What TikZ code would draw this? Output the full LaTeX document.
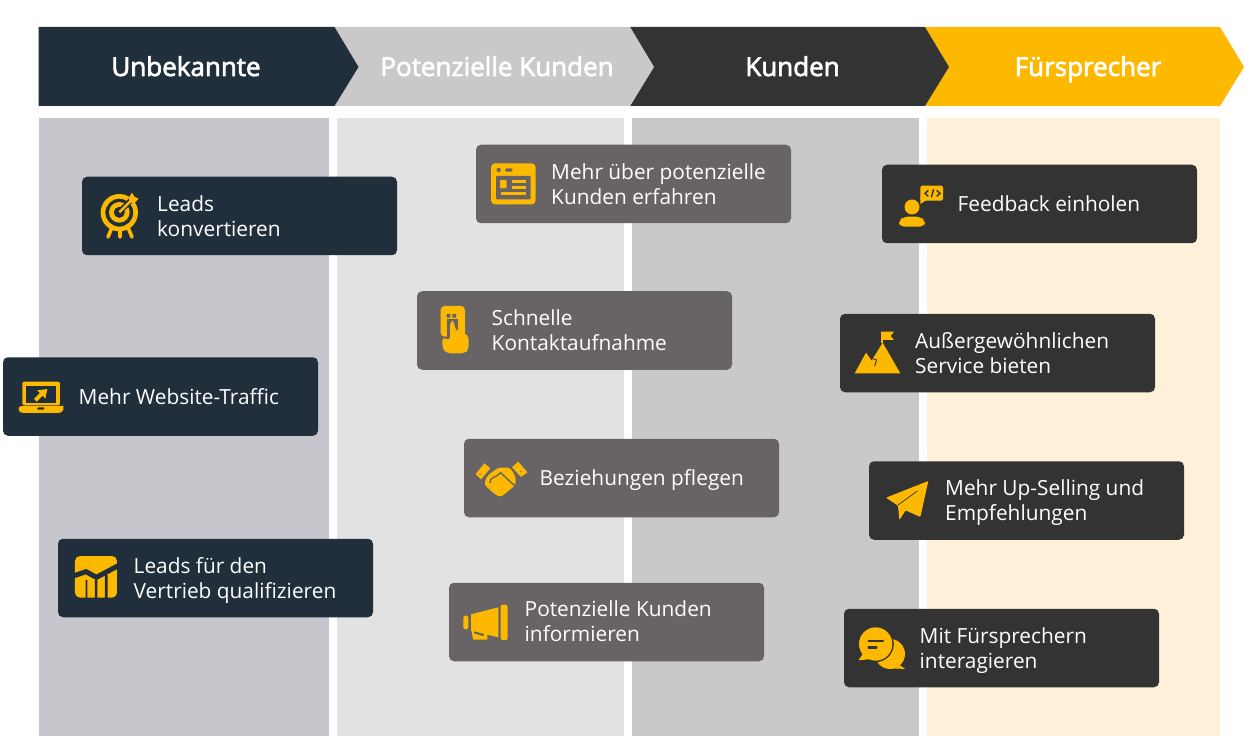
\documentclass[tikz,border=0pt]{standalone}
\usepackage{fontspec}
\setmainfont{Open Sans}
\newfontfamily\hdrfont{Open Sans}[FakeBold=2.5]
\definecolor{navy}{HTML}{212F3D}
\definecolor{slate}{HTML}{686364}
\definecolor{coal}{HTML}{333333}
\definecolor{gold}{HTML}{FDB900}
\definecolor{silver}{HTML}{CAC8C9}
\definecolor{colA}{HTML}{C7C6CC}
\definecolor{colB}{HTML}{E2E2E2}
\definecolor{colC}{HTML}{CAC9CA}
\definecolor{colD}{HTML}{FFF0D9}
\tikzset{
  x=1pt,y=-1pt,
  stage/.style={font=\hdrfont\fontsize{26}{28}\selectfont,text=white,inner sep=0pt,text height=18pt,text depth=6pt},
  card/.style={fill=#1,rounded corners=5pt,minimum width=315pt,minimum height=78.5pt,inner sep=0pt,draw=none},
  lbl/.style={font=\fontsize{20.85}{25}\selectfont,text=white,anchor=west,align=left,inner sep=0pt},
  icon/.style={shift={#1},x=0.3333pt,y=-0.3333pt,line cap=butt},
}
\newcommand{\chev}[4]{\fill[#4] (#1,27) -- (#2,27) -- (#2+24,67) -- (#2,106) -- (#1,106) #3;}
\begin{document}
\begin{tikzpicture}
\useasboundingbox (0,0) rectangle (1250,751);
\fill[white] (0,0) rectangle (1250,751);
% columns
\fill[colA] (38.5,118) rectangle (329,736);
\fill[colB] (337,118) rectangle (624,736);
\fill[colC] (632,118) rectangle (919,736);
\fill[colD] (927,118) rectangle (1220,736);
% chevrons
\chev{925}{1220}{-- (949,67) -- cycle}{gold}
\chev{630}{925}{-- (653.5,67) -- cycle}{coal}
\chev{334.5}{630}{-- (358,67) -- cycle}{silver}
\chev{38.5}{334.5}{-- cycle}{navy}
\node[stage] (s1) at (186,70) {Unbekannte};
\node[stage] (s2) at (497,70) {Potenzielle Kunden};
\node[stage] (s3) at (792.5,70) {Kunden};
\node[stage] (s4) at (1088,70) {Fürsprecher};
% cards
\node[card=navy] (c1) at (239.5,216) {};
\node[card=navy] (c2) at (160.5,396.5) {};
\node[card=navy] (c3) at (215.5,578) {};
\node[card=slate] (c4) at (633.5,184) {};
\node[card=slate] (c5) at (574.5,330.5) {};
\node[card=slate] (c6) at (621.5,478) {};
\node[card=slate] (c7) at (606.5,622) {};
\node[card=coal] (c8) at (1039.5,204) {};
\node[card=coal] (c9) at (997.5,353) {};
\node[card=coal] (c10) at (1026.5,500.5) {};
\node[card=coal] (c11) at (1001.5,648) {};
% labels
\node[lbl] (t1) at (157,219) {\strut Leads\\\strut konvertieren};
\node[lbl] (t2) at (78.5,399.5) {\strut Mehr Website-Traffic};
\node[lbl] (t3) at (133.5,581) {\strut Leads für den\\\strut Vertrieb qualifizieren};
\node[lbl] (t4) at (551,187) {\strut Mehr über potenzielle\\\strut Kunden erfahren};
\node[lbl] (t5) at (491.5,333) {\strut Schnelle\\\strut Kontaktaufnahme};
\node[lbl] (t6) at (539.5,480.5) {\strut Beziehungen pflegen};
\node[lbl] (t7) at (524.5,624) {\strut Potenzielle Kunden\\\strut informieren};
\node[lbl] (t8) at (957.5,207) {\strut Feedback einholen};
\node[lbl] (t9) at (915,356) {\strut Außergewöhnlichen\\\strut Service bieten};
\node[lbl] (t10) at (945,503) {\strut Mehr Up-Selling und\\\strut Empfehlungen};
\node[lbl] (t11) at (919.5,651) {\strut Mit Fürsprechern\\\strut interagieren};
% icon: target
\begin{scope}[icon={(80,170)}]
  \draw[gold,line width=3.6pt,line cap=round] (95,175) -- (84,201) (120,180) -- (120,201) (145,175) -- (156,201);
  \fill[gold,even odd rule] (118,128) circle (56) (118,128) circle (42);
  \fill[gold,even odd rule] (118,127) circle (31) (118,127) circle (17);
  \draw[navy,line width=5.5pt] (122,122) -- (160,84);
  \draw[gold,line width=2.6pt] (118,127) -- (155,90);
  \fill[gold] (146,84) -- (156,68) -- (163,80) -- (176,86) -- (162,100) -- (150,97) -- cycle;
\end{scope}
% icon: laptop
\begin{scope}[icon={(0,350)}]
  \fill[gold,rounded corners=1.5pt] (67,95) rectangle (180,166);
  \fill[navy] (79,107) rectangle (168,158);
  \fill[gold] (56,168) -- (190,168) -- (190,180) [rounded corners=3pt] -- (185,189) -- (61,189) -- (56,180) -- cycle;
  \fill[navy,rounded corners=1pt] (112,172) rectangle (133,179);
  \fill[gold] (142,117) -- (136,146) -- (128,137) -- (110,155) -- (102,147) -- (120,129) -- (112,121) -- cycle;
\end{scope}
% icon: chart
\begin{scope}[icon={(55,535)}]
  \fill[gold,rounded corners=5pt] (60,63) rectangle (186,188);
  \fill[navy] (92,135) rectangle (97,192) (120,135) rectangle (127,192) (150,120) rectangle (158,192);
  \draw[navy,line width=5pt] (52,124) -- (93,110) -- (124,127) -- (190,92);
\end{scope}
% icon: profile window
\begin{scope}[icon={(470,140)}]
  \fill[gold,rounded corners=4pt] (63,70) rectangle (197,193);
  \fill[slate,rounded corners=1pt] (78,108) rectangle (182,178);
  \fill[slate] (86,90) circle (6.5);
  \fill[slate,rounded corners=1.5pt] (105,85) rectangle (128,95);
  \fill[gold,rounded corners=1pt] (90,120) rectangle (110,145);
  \draw[gold,line width=2.7pt] (125,124) -- (169,124) (125,142) -- (169,142) (92,160) -- (169,160);
\end{scope}
% icon: phone and hand
\begin{scope}[icon={(410,285)}]
  \fill[gold,rounded corners=4pt] (92,63) rectangle (165,155);
  \fill[slate] (110,87) rectangle (121,98) (127,87) rectangle (138,98);
  \fill[slate] (111,102) rectangle (143,160);
  \fill[gold,rounded corners=4pt] (120,108) -- (134,108) -- (134,135) -- (176,150) -- (176,192) -- (165,205) -- (110,205) -- (97,190) -- (97,155) -- (120,168) -- cycle;
\end{scope}
% icon: handshake
\begin{scope}[icon={(460,435)}]
  \fill[gold] (47,117) -- (73,85) -- (91,100) -- (63,133) -- cycle;
  \fill[gold] (156,97) -- (175,80) -- (202,112) -- (183,126) -- cycle;
  \fill[slate] (60,118) circle (2.5) (182,110) circle (2.5);
  \fill[gold,rounded corners=3pt] (72,148) -- (82,122) -- (115,98) -- (150,98) -- (167,125) -- (167,150) -- (152,162) -- (138,174) -- (120,187) -- (100,174) -- cycle;
  \draw[slate,line width=1.4pt,line cap=round] (90,143) .. controls (90,125) and (105,130) .. (122,113) .. controls (135,125) and (150,140) .. (164,152);
\end{scope}
% icon: megaphone
\begin{scope}[icon={(445,578)}]
  \fill[gold,rounded corners=1.5pt] (55,113) rectangle (70,154);
  \fill[gold] (78,109) -- (160,88) -- (160,178) -- (127,170) -- (127,185) -- (84,185) -- (80,160) -- (78,158) -- cycle;
  \fill[gold,rounded corners=2pt] (167,80) rectangle (188,186);
  \fill[slate] (88,160) -- (117,168) -- (115,174) -- (87,166) -- cycle;
\end{scope}
% icon: person with code bubble
\begin{scope}[icon={(880,160)}]
  \fill[gold] (96,141) circle (22.5);
  \fill[gold,rounded corners=5pt] (57,200) -- (57,184) -- (70,170) -- (122,170) -- (135,184) -- (135,200) -- cycle;
  \fill[gold,rounded corners=1.5pt] (121,77) rectangle (189,122);
  \fill[gold] (121,110) -- (121,132) -- (140,120) -- cycle;
  \draw[coal,line width=1.4pt] (145,91) -- (135,100) -- (145,109) (170,91) -- (180,100) -- (170,109) (161,88) -- (154,112);
\end{scope}
% icon: mountain
\begin{scope}[icon={(835,310)}]
  \fill[gold] (138,65) -- (177,65) -- (167,78) -- (177,90) -- (138,90) -- cycle;
  \fill[gold] (59,190) -- (93,128) -- (110,152) -- (143,98) -- (196,190) -- cycle;
  \draw[coal,line width=0.9pt] (113,146) -- (125,150) -- (119,168);
  \draw[gold,line width=1.3pt] (141,85) -- (141,100);
\end{scope}
% icon: paper plane
\begin{scope}[icon={(840,455)}]
  \fill[gold,rounded corners=1pt] (138,128) -- (265,78) -- (241,186) -- (197,166) -- (178,195) -- (174,152) -- cycle;
  \draw[coal,line width=0.7pt] (174,150) -- (232,108);
\end{scope}
% icon: speech bubbles
\begin{scope}[icon={(840,455)}]
  \fill[gold] (150,597) circle (45);
  \fill[gold] (170,625) -- (196,642) -- (155,640) -- cycle;
  \draw[coal,line width=1.6pt] (107,567) circle (52);
  \fill[gold] (107,567) circle (50);
  \fill[gold] (70,595) -- (55,616) -- (95,612) -- cycle;
  \draw[coal,line width=2.6pt,line cap=round] (86,558) -- (129,558) (86,577) -- (109,577);
\end{scope}
\end{tikzpicture}
\end{document}
